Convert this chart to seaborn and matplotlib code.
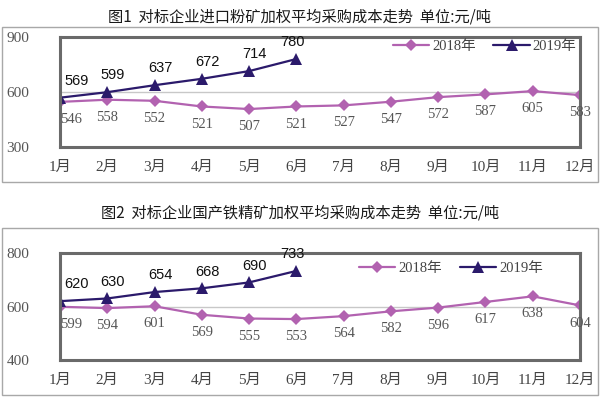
import pandas as pd
import seaborn as sns
import matplotlib.pyplot as plt
from matplotlib.patches import Rectangle

# data
months = ['1月', '2月', '3月', '4月', '5月', '6月', '7月', '8月', '9月', '10月', '11月', '12月']
import_2018 = [546, 558, 552, 521, 507, 521, 527, 547, 572, 587, 605, 583]
import_2019 = [569, 599, 637, 672, 714, 780]
domestic_2018 = [599, 594, 601, 569, 555, 553, 564, 582, 596, 617, 638, 604]
domestic_2019 = [620, 630, 654, 668, 690, 733]

titles = ['图1  对标企业进口粉矿加权平均采购成本走势  单位:元/吨',
          '图2  对标企业国产铁精矿加权平均采购成本走势  单位:元/吨']
yticks_1 = [300, 600, 900]
yticks_2 = [400, 600, 800]

c2018 = '#b262b0'
c2019 = '#2b1a6b'

sns.set_theme(style='white')
plt.rcParams['font.family'] = ['Liberation Serif', 'Noto Sans CJK SC']

W, H = 600, 397
fig = plt.figure(figsize=(6, 3.97), dpi=100)


def fx(px):
    return px / W


def fy(py):
    return 1 - py / H


def panel(rect_box, rect_ax, title_xy, title, y18, y19, yticks, legend_xy):
    x0, y0, x1, y1 = rect_box
    fig.patches.append(Rectangle((fx(x0), fy(y1)), fx(x1 - x0), (y1 - y0) / H,
                                 transform=fig.transFigure, fill=False,
                                 edgecolor='#a8a8a8', linewidth=1.0))
    fig.text(fx(title_xy[0]), fy(title_xy[1]), title, ha='center', va='center',
             fontsize=11, family=['Noto Sans CJK SC', 'DejaVu Sans'],
             weight='medium', color='#1a1a1a')
    ax0, ay0, ax1, ay1 = rect_ax
    ax = fig.add_axes([fx(ax0), fy(ay1), fx(ax1 - ax0), (ay1 - ay0) / H])

    df18 = pd.DataFrame({'x': range(len(months)), 'v': y18})
    df19 = pd.DataFrame({'x': range(len(y19)), 'v': y19})
    sns.lineplot(data=df18, x='x', y='v', ax=ax, color=c2018, marker='D',
                 markersize=6, markeredgewidth=0, linewidth=1.6, label='2018年')
    sns.lineplot(data=df19, x='x', y='v', ax=ax, color=c2019, marker='^',
                 markersize=8, markeredgewidth=0, linewidth=1.6, label='2019年')

    for i, v in enumerate(y18):
        dx = 8 if i == 0 else 0
        ax.annotate(str(v), (i, v), xytext=(dx, -8), textcoords='offset points',
                    ha='center', va='top', fontsize=10.5, color='#555555')
    for i, v in enumerate(y19):
        dx = 12 if i == 0 else (4 if i < 5 else -3)
        ax.annotate(str(v), (i, v), xytext=(dx, 7), textcoords='offset points',
                    ha='center', va='bottom', fontsize=10.5, color='#111111',
                    family=['Liberation Sans', 'DejaVu Sans'])

    ax.set_xlim(0, len(months) - 1)
    ax.set_ylim(yticks[0], yticks[-1])
    ax.set_xticks(range(len(months)))
    ax.set_xticklabels(months)
    ax.set_yticks(yticks)
    ax.axhline(yticks[1], color='#c8c8c8', linewidth=1.0, zorder=0)
    ax.set_xlabel('')
    ax.set_ylabel('')
    for s in ax.spines.values():
        s.set_color('#6a6a6a')
        s.set_linewidth(2.2)
    ax.tick_params(axis='x', direction='in', length=5, width=0.8, color='#888888',
                   pad=10, labelsize=11, labelcolor='#444444')
    ax.tick_params(axis='y', length=0, pad=22, labelsize=11, labelcolor='#555555')
    leg = ax.legend(loc='center left', bbox_to_anchor=legend_xy, ncol=2,
                    frameon=False, fontsize=10.5, handlelength=2.5,
                    columnspacing=1.2, handletextpad=0.2, borderaxespad=0,
                    borderpad=0)
    for t in leg.get_texts():
        t.set_color('#444444')
    return ax


panel((2, 27, 598, 182), (60, 37, 580, 147), (300, 17), titles[0],
      import_2018, import_2019, yticks_1, (0.64, 1 - 9 / 110))
panel((2, 228, 598, 395), (60, 253, 580, 360), (300, 213), titles[1],
      domestic_2018, domestic_2019, yticks_2, (0.575, 1 - 15 / 107))

fig.savefig('out.png', dpi=100)
